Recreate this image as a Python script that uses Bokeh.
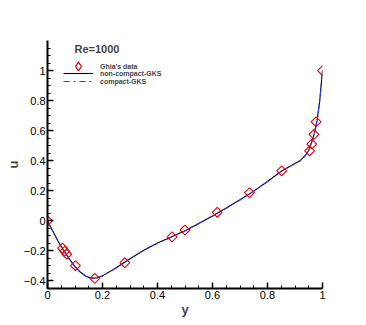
from bokeh.plotting import figure
from bokeh.models import Range1d, Legend, LegendItem, Label, SingleIntervalTicker
from bokeh.embed import file_html
from bokeh.resources import INLINE

# Ghia's data (Re=1000), u along vertical centerline
ghia_y = [0.0, 0.0547, 0.0625, 0.0703, 0.1016, 0.1719, 0.2813, 0.4531, 0.5000,
          0.6172, 0.7344, 0.8516, 0.9531, 0.9609, 0.9688, 0.9766, 1.0]
ghia_u = [0.0, -0.18109, -0.20196, -0.22220, -0.29730, -0.38289, -0.27805, -0.10648,
          -0.06080, 0.05702, 0.18719, 0.33304, 0.46604, 0.51117, 0.57492, 0.65928, 1.0]

# non-compact GKS curve
nc_y = [0, 0.02, 0.04, 0.06, 0.08, 0.10, 0.12, 0.14, 0.16, 0.18, 0.20, 0.25, 0.30,
        0.35, 0.40, 0.45, 0.50, 0.55, 0.60, 0.65, 0.70, 0.75, 0.80, 0.85, 0.90,
        0.92, 0.94, 0.95, 0.96, 0.97, 0.98, 0.99, 1.0]
nc_u = [0, -0.07, -0.14, -0.20, -0.255, -0.305, -0.342, -0.368, -0.381, -0.379,
        -0.366, -0.312, -0.252, -0.195, -0.148, -0.108, -0.066, -0.017, 0.032,
        0.085, 0.140, 0.198, 0.262, 0.330, 0.382, 0.402, 0.440, 0.470, 0.520,
        0.580, 0.665, 0.800, 1.0]

# compact GKS curve
c_y = nc_y
c_u = [0, -0.072, -0.142, -0.202, -0.257, -0.307, -0.344, -0.370, -0.383, -0.381,
       -0.367, -0.313, -0.253, -0.196, -0.149, -0.109, -0.067, -0.018, 0.031,
       0.084, 0.139, 0.197, 0.261, 0.329, 0.381, 0.400, 0.438, 0.468, 0.518,
       0.578, 0.662, 0.798, 1.0]

FONT = "Liberation Sans"
RED = "#e8000b"
NAN = float("nan")

p = figure(frame_width=275, frame_height=248, output_backend="svg", toolbar_location=None,
           x_range=Range1d(0, 1), y_range=Range1d(-0.45, 1.2),
           min_border_left=47, min_border_right=30, min_border_top=40, min_border_bottom=30)
p.outline_line_color = None
p.grid.visible = False
p.background_fill_color = "white"

r_nc = p.line(nc_y, nc_u, line_color="black", line_width=1.1)
r_c = p.line(c_y, c_u, line_color="#3333ff", line_width=1.1, line_dash="dashdot")
r_g = p.scatter(ghia_y, ghia_u, marker="square", angle=0.7854, size=7, fill_color=None,
                line_color=RED, line_width=1.1)
# legend-only marker (not drawn: NaN point)
r_gl = p.scatter([NAN], [NAN], marker="diamond", fill_color=None, line_color=RED, line_width=1.3)

for ax in (p.xaxis[0], p.yaxis[0]):
    ax.axis_line_width = 2
    ax.axis_line_color = "black"
    ax.major_tick_in = 6
    ax.major_tick_out = 0
    ax.minor_tick_in = 3
    ax.minor_tick_out = 0
    ax.major_tick_line_width = 1.5
    ax.major_label_standoff = 2
    ax.axis_label_standoff = 0
    ax.major_label_text_font = FONT
    ax.major_label_text_font_size = "11px"
    ax.major_label_text_color = "black"
    ax.axis_label_text_font = FONT
    ax.axis_label_text_font_size = "13px"
    ax.axis_label_text_font_style = "bold"

p.xaxis[0].ticker = SingleIntervalTicker(interval=0.2, num_minor_ticks=4)
p.yaxis[0].ticker = SingleIntervalTicker(interval=0.2, num_minor_ticks=4)
p.xaxis[0].axis_label = "y"
p.yaxis[0].axis_label = "u"
p.xaxis[0].major_label_overrides = {0: "0", 1: "1"}
p.yaxis[0].major_label_overrides = {0: "0", 1: "1"}

leg_style = dict(background_fill_alpha=0, border_line_color=None,
                 label_text_font=FONT, label_text_font_size="7px", label_text_font_style="bold",
                 glyph_width=30, padding=0, label_standoff=7, margin=0, spacing=0)

legend_a = Legend(items=[LegendItem(label="Ghia's data", renderers=[r_gl])],
                  location=(16, 211), glyph_height=22, label_height=7, **leg_style)
legend_b = Legend(items=[LegendItem(label="non-compact-GKS", renderers=[r_nc]),
                         LegendItem(label="compact-GKS", renderers=[r_c])],
                  location=(16, 203), glyph_height=8, label_height=8, **leg_style)
p.add_layout(legend_a)
p.add_layout(legend_b)

p.add_layout(Label(x=27, y=240, x_units="screen", y_units="screen", text="Re=1000",
                   text_font=FONT, text_font_size="11px", text_font_style="bold",
                   text_baseline="middle"))

open("out.html", "w").write(file_html(p, INLINE))
